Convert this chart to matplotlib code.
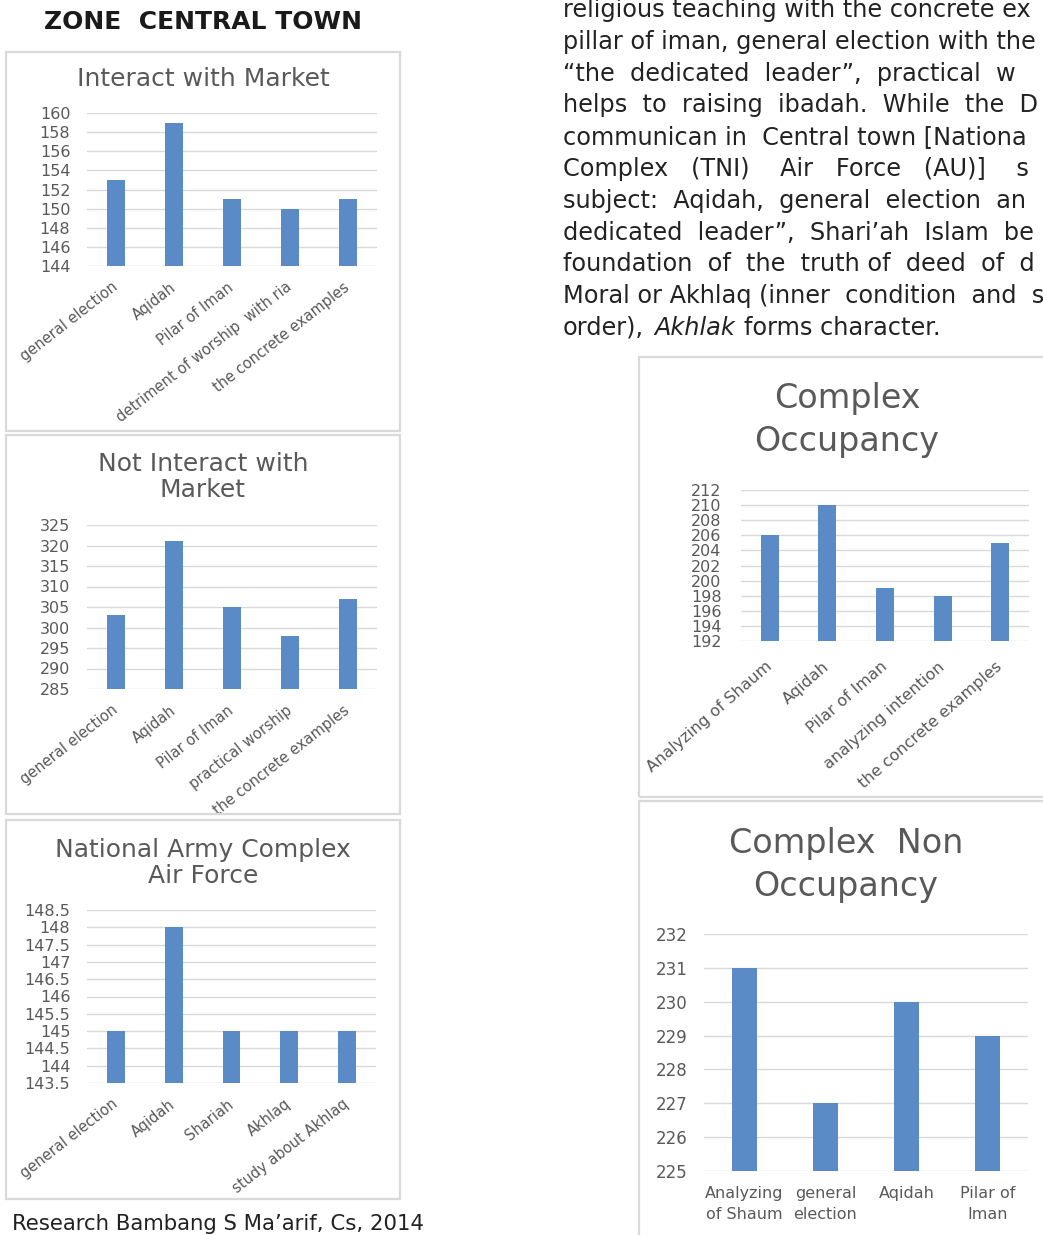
import matplotlib
matplotlib.use('Agg')
import matplotlib.pyplot as plt
from matplotlib.patches import Rectangle
from matplotlib.ticker import MultipleLocator, FuncFormatter

W, H = 1043, 1235
BLUE = '#5b8bc6'
GRID = '#d9d9d9'
LABEL = '#595959'
INK = '#222222'

# chart data
market_cats = ['general election', 'Aqidah', 'Pilar of Iman',
               'detriment of worship  with ria', 'the concrete examples']
market_vals = [153, 159, 151, 150, 151]

no_market_cats = ['general election', 'Aqidah', 'Pilar of Iman',
                  'practical worship', 'the concrete examples']
no_market_vals = [303, 321, 305, 298, 307]

army_cats = ['general election', 'Aqidah', 'Shariah', 'Akhlaq', 'study about Akhlaq']
army_vals = [145, 148, 145, 145, 145]

occ_cats = ['Analyzing of Shaum', 'Aqidah', 'Pilar of Iman',
            'analyzing intention', 'the concrete examples']
occ_vals = [206, 210, 199, 198, 205]

non_occ_cats = ['Analyzing\nof Shaum', 'general\nelection', 'Aqidah', 'Pilar of\nIman']
non_occ_vals = [231, 227, 230, 229]

# page text (right edge of the scan cuts the lines)
para_lines = [
    'religious teaching with the concrete ex',
    'pillar of iman, general election with the',
    '\u201cthe  dedicated  leader\u201d,  practical  w',
    'helps  to  raising  ibadah.  While  the  D',
    'communican in  Central town [Nationa',
    'Complex   (TNI)    Air   Force   (AU)]    s',
    'subject:  Aqidah,  general  election  an',
    'dedicated  leader\u201d,  Shari\u2019ah  Islam  be',
    'foundation  of  the  truth of  deed  of  d',
    'Moral or Akhlaq (inner  condition  and  s',
]

BODY = 17.3

fig = plt.figure(figsize=(W / 100, H / 100), dpi=100)
fig.patch.set_facecolor('white')


def px_box(x0, y0, x1, y1):
    return [x0 / W, 1 - y1 / H, (x1 - x0) / W, (y1 - y0) / H]


def frame(x0, y0, x1, y1):
    fig.add_artist(Rectangle((x0 / W, 1 - y1 / H), (x1 - x0) / W, (y1 - y0) / H,
                             transform=fig.transFigure, fill=False,
                             ec=GRID, lw=1.6))


def bar_panel(box, cats, vals, ymin, ymax, step, width, ysize, xsize,
              ypad, xpad, rot=38):
    ax = fig.add_axes(px_box(*box))
    x = list(range(len(cats)))
    ax.bar(x, vals, width=width, color=BLUE)
    ax.set_xlim(-0.5, len(cats) - 0.5)
    ax.set_ylim(ymin, ymax)
    ax.yaxis.set_major_locator(MultipleLocator(step))
    ax.yaxis.set_major_formatter(FuncFormatter(lambda v, _: f'{v:g}'))
    ax.set_axisbelow(True)
    ax.grid(axis='y', color=GRID, lw=1)
    for s in ax.spines.values():
        s.set_visible(False)
    ax.set_facecolor('none')
    ax.tick_params(axis='y', length=0, pad=ypad, labelsize=ysize, labelcolor=LABEL)
    ax.tick_params(axis='x', length=0, pad=xpad)
    ax.set_xticks(x)
    if rot:
        ax.set_xticklabels(cats, rotation=rot, ha='right', va='center',
                           rotation_mode='anchor', fontsize=xsize, color=LABEL)
    else:
        ax.set_xticklabels(cats, fontsize=xsize, color=LABEL, linespacing=1.45)
    return ax


# zone heading
fig.text(203 / W, 1 - 22 / H, 'ZONE  CENTRAL TOWN', ha='center', va='center',
         fontsize=18, fontweight='bold', color='#1a1a1a')

# left column charts
frame(6, 52, 400, 431)
fig.text(203 / W, 1 - 79 / H, 'Interact with Market', ha='center', va='center',
         fontsize=18, color=LABEL)
bar_panel((87, 113, 377, 266), market_cats, market_vals, 144, 160, 2, 0.31,
          11.5, 10.5, 12, 14)

frame(6, 435, 400, 814)
fig.text(203 / W, 1 - 477 / H, 'Not Interact with\nMarket', ha='center', va='center',
         fontsize=18, color=LABEL, linespacing=1.12)
bar_panel((87, 525, 377, 689), no_market_cats, no_market_vals, 285, 325, 5, 0.31,
          11.5, 10.5, 12, 14)

frame(6, 820, 400, 1199)
fig.text(203 / W, 1 - 863 / H, 'National Army Complex\nAir Force', ha='center',
         va='center', fontsize=18, color=LABEL, linespacing=1.12)
bar_panel((87, 910, 376, 1083), army_cats, army_vals, 143.5, 148.5, 0.5, 0.31,
          11.5, 10.5, 12, 14)

# right column charts
frame(639, 357, 1060, 797)
fig.text(847 / W, 1 - 420 / H, 'Complex\nOccupancy', ha='center', va='center',
         fontsize=24, color=LABEL, linespacing=1.35)
bar_panel((741, 490, 1029, 641), occ_cats, occ_vals, 192, 212, 2, 0.31,
          11.5, 11.5, 14, 17, rot=41)

frame(639, 801, 1060, 1260)
fig.text(846 / W, 1 - 865 / H, 'Complex  Non\nOccupancy', ha='center', va='center',
         fontsize=24, color=LABEL, linespacing=1.35)
bar_panel((704, 934, 1028, 1171), non_occ_cats, non_occ_vals, 225, 232, 1, 0.3,
          12, 11.5, 12, 11, rot=0)

# body text on the right
for i, line in enumerate(para_lines):
    fig.text(563 / W, 1 - (17 + 31.8 * i) / H, line, ha='left', va='baseline',
             fontsize=BODY, color=INK)

last_y = 1 - (17 + 31.8 * len(para_lines)) / H
t1 = fig.text(563 / W, last_y, 'order),', ha='left', va='baseline',
              fontsize=BODY, color=INK)
a2 = fig.add_artist(plt.Annotation('Akhlak', xy=(1, 0), xycoords=t1,
                                   xytext=(7, 0), textcoords='offset points',
                                   ha='left', va='bottom', fontsize=BODY,
                                   color=INK, style='italic'))
fig.add_artist(plt.Annotation('forms character.', xy=(1, 0), xycoords=a2,
                              xytext=(7, 0), textcoords='offset points',
                              ha='left', va='bottom', fontsize=BODY, color=INK))

# source caption
fig.text(12 / W, 1 - 1230 / H, 'Research Bambang S Ma\u2019arif, Cs, 2014',
         ha='left', va='baseline', fontsize=15.3, color=INK)

fig.savefig('out.png', dpi=100, facecolor='white')
